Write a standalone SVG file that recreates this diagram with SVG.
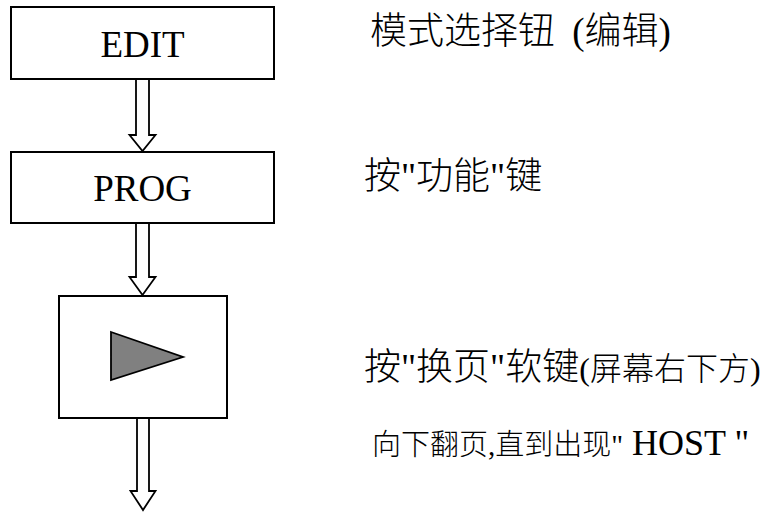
<svg xmlns="http://www.w3.org/2000/svg" width="776" height="514" viewBox="0 0 776 514">
<style>
.box{fill:#fff;stroke:#000;stroke-width:2}
.arr{fill:#fff;stroke:#000;stroke-width:1.8;stroke-linejoin:miter}
.lbl{font-family:"Liberation Serif","Times New Roman",serif;font-size:37px;fill:#000;text-anchor:middle}
.note{font-family:"Liberation Serif","Noto Sans CJK SC",serif;fill:#000;font-weight:300}
</style>
<rect width="776" height="514" fill="#fff"/>
<g id="connectors">
<polygon class="arr" points="136,79 149,79 149,135 155.5,135 142.5,151 129.5,135 136,135"/>
<polygon class="arr" points="136,223 149,223 149,277 155.5,277 142.5,295 129.5,277 136,277"/>
<polygon class="arr" points="137,418 149,418 149,491 155.5,491 143,510 130.5,491 137,491"/>
</g>
<g id="node-edit">
<rect class="box" x="11" y="7" width="263" height="72"/>
<text class="lbl" x="142.5" y="57">EDIT</text>
</g>
<g id="node-prog">
<rect class="box" x="11" y="152" width="263" height="71"/>
<text class="lbl" x="142.5" y="201">PROG</text>
</g>
<g id="node-page">
<rect class="box" x="59" y="296" width="168" height="122"/>
<polygon points="111,332 183,357 111,380" fill="#808080" stroke="#000" stroke-width="1.8"/>
</g>
<g id="notes">
<text class="note" x="370" y="44" font-size="37">模式选择钮 <tspan dx="8">(编辑)</tspan></text>
<text class="note" x="364" y="189" font-size="37">按"功能"键</text>
<text class="note" x="364" y="380" font-size="37">按"换页"软键<tspan font-size="32">(屏幕右下方)</tspan></text>
<text class="note" x="372" y="455" font-size="29">向下翻页,直到出现"<tspan font-size="36"> HOST "</tspan></text>
</g>
</svg>
